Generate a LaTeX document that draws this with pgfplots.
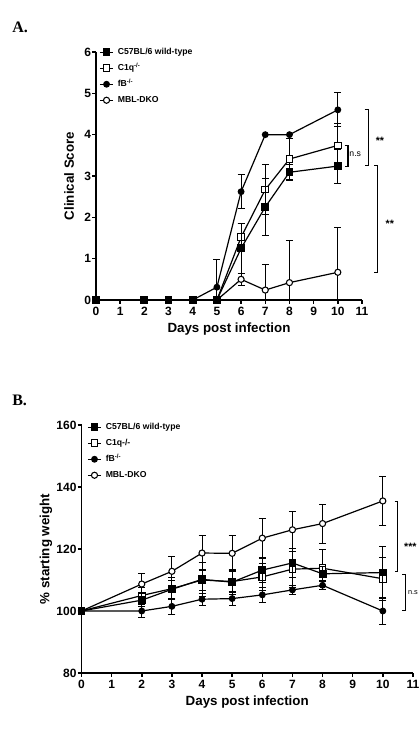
\documentclass[border=0pt]{standalone}
\usepackage{pgfplots}
\pgfplotsset{compat=1.18}
\usepackage{fontspec}
\setmainfont{Liberation Sans}
\newfontfamily\panelfont{Liberation Serif}

\pgfplotsset{
  prism/.style={
    scale only axis,
    axis x line*=bottom, axis y line*=left,
    axis line style={line width=1.1pt},
    every tick/.style={line width=1.1pt, black},
    tick align=outside, major tick length=3pt,
    xmin=0, xmax=11, xtick={0,...,11},
    clip mode=individual,
    /pgf/number format/assume math mode=true,
    tick label style={font=\bfseries\fontsize{9}{9}\selectfont},
    xticklabel style={inner sep=1pt, yshift=-1pt},
    yticklabel style={inner sep=0.6pt},
    every axis x label/.style={at={(axis description cs:0.5,0)}, anchor=center,
      yshift=-21.75pt, font=\bfseries\fontsize{10}{10}\selectfont},
    xlabel={Days post infection},
    every axis plot/.append style={line width=0.9pt, black},
    error bars/y dir=both, error bars/y explicit,
    error bars/error bar style={line width=0.7pt, black},
    error bars/error mark options={rotate=90, mark size=2.6pt, line width=0.7pt, black},
    reverse legend,
    legend cell align=left,
    legend style={draw=none, fill=none, inner sep=0pt, column sep=2.5pt, row sep=5pt,
      font=\bfseries\fontsize{6.5}{6.5}\selectfont,
      nodes={inner sep=0.5pt, text height=4.7pt, text depth=1.3pt},
      anchor=north west},
    legend image code/.code={\draw[mark repeat=2, mark phase=2, #1]
      plot coordinates {(0pt,0pt) (5pt,0pt) (10pt,0pt)};},
  },
  ylab/.style={every axis y label/.style={at={(axis description cs:0,0.5)},
      xshift=-#1, rotate=90, anchor=center, font=\bfseries\fontsize{10}{10}\selectfont}},
  wt/.style={mark=square*, mark size=2.5pt, mark options={solid, fill=black}},
  c1q/.style={mark=square*, mark size=2.5pt, mark options={solid, fill=white, line width=0.8pt}},
  fb/.style={mark=*, mark size=2.1pt, mark options={solid, fill=black}},
  mbl/.style={mark=*, mark size=2.3pt, mark options={solid, fill=white, line width=0.8pt}},
}

% significance bracket: vertical bar at x from y1 to y2, short arms pointing left
\newcommand{\sigbracket}[3]{%
  \draw[line width=0.8pt] ([xshift=-2.5pt]axis cs:#1,#2) -- (axis cs:#1,#2)
    -- (axis cs:#1,#3) -- ([xshift=-2.5pt]axis cs:#1,#3);}

\begin{document}
\begin{tikzpicture}[x=0.75pt,y=0.75pt]
\useasboundingbox (0,0) rectangle (419,737);
\clip (0,0) rectangle (419,737);

\node[anchor=base west, inner sep=0pt, font=\panelfont\bfseries\fontsize{12}{12}\selectfont] at (12,704) {A.};
\node[anchor=base west, inner sep=0pt, font=\panelfont\bfseries\fontsize{12}{12}\selectfont] at (12,331) {B.};

% ---------- Panel A: clinical score ----------
\begin{axis}[prism, ylab=20.25pt,
  at={(72pt,327.75pt)}, anchor=south west,
  width=199.5pt, height=186pt,
  ymin=0, ymax=6, ytick={0,...,6},
  ylabel={Clinical Score},
  legend style={at={(rel axis cs:0,1)}, xshift=2.25pt, yshift=3.5pt},
]
\addplot[mbl] coordinates {
  (0,0) +- (0,0) (2,0) +- (0,0) (3,0) +- (0,0) (4,0) +- (0,0) (5,0) +- (0,0)
  (6,0.50) +- (0,0.15) (7,0.24) +- (0,0.63) (8,0.42) +- (0,1.01) (10,0.67) +- (0,1.09)};
\addplot[fb] coordinates {
  (0,0) +- (0,0) (2,0) +- (0,0) (3,0) +- (0,0) (4,0) +- (0,0) (5,0.31) +- (0,0.66)
  (6,2.62) +- (0,0.41) (7,4.0) +- (0,0) (8,4.0) +- (0,0) (10,4.60) +- (0,0.41)};
\addplot[c1q] coordinates {
  (0,0) +- (0,0) (2,0) +- (0,0) (3,0) +- (0,0) (4,0) +- (0,0) (5,0) +- (0,0)
  (6,1.52) +- (0,0.33) (7,2.67) +- (0,0.60) (8,3.41) +- (0,0.50) (10,3.74) +- (0,0.52)};
\addplot[wt] coordinates {
  (0,0) +- (0,0) (2,0) +- (0,0) (3,0) +- (0,0) (4,0) +- (0,0) (5,0) +- (0,0)
  (6,1.25) +- (0,0.60) (7,2.25) +- (0,0.68) (8,3.09) +- (0,0.19) (10,3.24) +- (0,0.41)};
\legend{MBL-DKO, fB\textsuperscript{-/-}, C1q\textsuperscript{-/-}, C57BL/6 wild-type}
\sigbracket{11.25}{4.6}{3.25}
\sigbracket{11.65}{3.25}{0.67}
\sigbracket{10.42}{3.74}{3.24}
\node[font=\bfseries\fontsize{8}{8}\selectfont, yshift=-1.5pt] at (axis cs:11.74,3.91) {**};
\node[font=\bfseries\fontsize{8}{8}\selectfont, yshift=-1.5pt] at (axis cs:12.15,1.88) {**};
\node[font=\fontsize{6.5}{6.5}\selectfont, inner sep=0pt] at (axis cs:10.72,3.53) {n.s};
\end{axis}

% ---------- Panel B: body weight ----------
\begin{axis}[prism, ylab=26.6pt,
  at={(61.125pt,48pt)}, anchor=south west,
  width=248.6pt, height=186pt,
  ymin=80, ymax=160, ytick={80,100,...,160},
  ylabel={\% starting weight},
  legend style={at={(rel axis cs:0,1)}, xshift=4.1pt, yshift=2pt},
]
\addplot[mbl] coordinates {
  (0,100) +- (0,0) (2,108.7) +- (0,3.5) (3,112.8) +- (0,4.8) (4,118.7) +- (0,5.6)
  (5,118.6) +- (0,5.9) (6,123.5) +- (0,6.4) (7,126.2) +- (0,6.0) (8,128.2) +- (0,6.3)
  (10,135.5) +- (0,7.8)};
\addplot[fb] coordinates {
  (0,100) +- (0,0) (2,100.0) +- (0,2.0) (3,101.5) +- (0,2.5) (4,103.8) +- (0,2.0)
  (5,104.0) +- (0,2.3) (6,105.2) +- (0,2.5) (7,106.8) +- (0,1.5) (8,108.3) +- (0,1.5)
  (10,100.0) +- (0,4.3)};
\addplot[c1q] coordinates {
  (0,100) +- (0,0) (2,105.0) +- (0,2.5) (3,107.2) +- (0,3.5) (4,110.0) +- (0,3.5)
  (5,109.5) +- (0,3.5) (6,111.0) +- (0,4.4) (7,113.5) +- (0,5.8) (8,113.8) +- (0,6.0)
  (10,110.4) +- (0,7.0)};
\addplot[wt] coordinates {
  (0,100) +- (0,0) (2,103.5) +- (0,2.0) (3,107.0) +- (0,3.0) (4,110.2) +- (0,5.5)
  (5,109.3) +- (0,4.0) (6,113.2) +- (0,4.0) (7,115.5) +- (0,4.8) (8,112.0) +- (0,2.5)
  (10,112.4) +- (0,8.3)};
\legend{MBL-DKO, fB\textsuperscript{-/-}, C1q-/-, C57BL/6 wild-type}
\sigbracket{10.5}{135.2}{112.6}
\sigbracket{10.76}{111.9}{100.3}
\node[font=\bfseries\fontsize{8}{8}\selectfont, yshift=-1.5pt, anchor=west, inner sep=0pt] at (axis cs:10.7,121.3) {***};
\node[font=\fontsize{5.5}{5.5}\selectfont, anchor=west, inner sep=0pt] at (axis cs:10.83,106.1) {n.s};
\end{axis}
\end{tikzpicture}
\end{document}
